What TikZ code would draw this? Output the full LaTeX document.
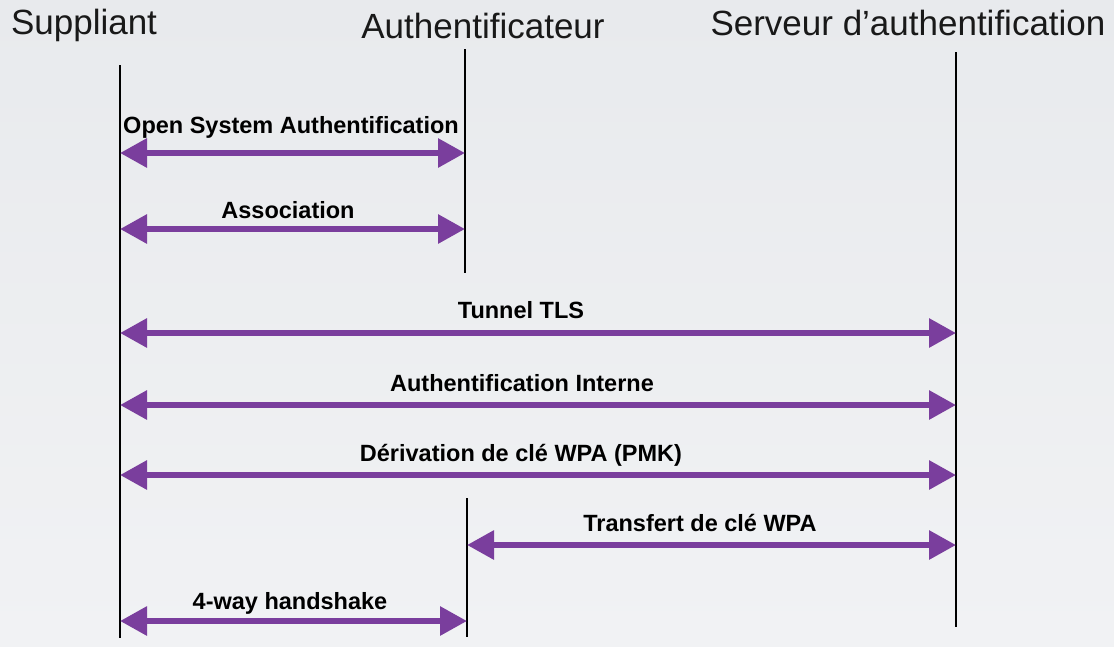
\documentclass[tikz,border=0pt]{standalone}
\usepackage{fontspec}
\setmainfont{Liberation Sans}
\usetikzlibrary{arrows.meta}
\definecolor{violetmsg}{RGB}{122,62,157}
\definecolor{fondhaut}{RGB}{232,234,237}
\definecolor{fondbas}{RGB}{241,242,244}

\begin{document}
\begin{tikzpicture}[x=1pt,y=-1pt,
  acteur/.style={anchor=base,inner sep=0pt,font=\fontsize{35}{40}\selectfont,color=black!90},
  message/.style={anchor=base,inner sep=0pt,font=\bfseries\fontsize{23.5}{26}\selectfont},
  vie/.style={line width=2pt},
  echange/.style={{Triangle[length=27pt,width=28pt]}-{Triangle[length=27pt,width=28pt]},line width=6pt,color=violetmsg}]
\shade[top color=fondhaut,bottom color=fondbas] (0,0) rectangle (1114,646);

% acteurs
\node[acteur] (Supp) at (84,34.5) {Suppliant};
\node[acteur] (Auth) at (483,38.5) {Authentificateur};
\node[acteur] (Serv) at (908,35) {Serveur d'authentification};

% lignes de vie
\coordinate (SuppHaut) at (120,65);
\coordinate (SuppBas) at (120,638);
\coordinate (AuthHaut) at (465,49);
\coordinate (AuthMil) at (465,273);
\coordinate (AuthMil2) at (467,498);
\coordinate (AuthBas) at (467,637);
\coordinate (ServHaut) at (956,52);
\coordinate (ServBas) at (956,627);
\draw[vie] (SuppHaut) to (SuppBas);
\draw[vie] (AuthHaut) to (AuthMil);
\draw[vie] (AuthMil2) to (AuthBas);
\draw[vie] (ServHaut) to (ServBas);

% echanges
\coordinate (S1) at (120,153); \coordinate (A1) at (465,153);
\coordinate (S2) at (120,229); \coordinate (A2) at (465,229);
\coordinate (S3) at (120,333); \coordinate (V3) at (956,333);
\coordinate (S4) at (120,405); \coordinate (V4) at (956,405);
\coordinate (S5) at (120,475); \coordinate (V5) at (956,475);
\coordinate (A6) at (467,545); \coordinate (V6) at (956,545);
\coordinate (S7) at (120,621); \coordinate (A7) at (467,621);
\draw[echange] (S1) to (A1);
\draw[echange] (S2) to (A2);
\draw[echange] (S3) to (V3);
\draw[echange] (S4) to (V4);
\draw[echange] (S5) to (V5);
\draw[echange] (A6) to (V6);
\draw[echange] (S7) to (A7);

\node[message] (OSA) at (291,133) {Open System Authentification};
\node[message] (ASSO) at (288,218) {Association};
\node[message] (TLS) at (521,318.5) {Tunnel TLS};
\node[message] (INT) at (522,391.5) {Authentification Interne};
\node[message] (PMK) at (521,461.5) {Dérivation de clé WPA (PMK)};
\node[message] (WPA) at (700,531.5) {Transfert de clé WPA};
\node[message] (HS) at (290,609.5) {4-way handshake};
\end{tikzpicture}
\end{document}
